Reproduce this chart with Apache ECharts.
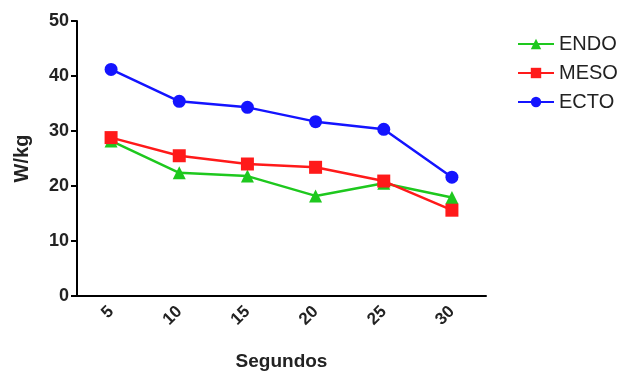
<!DOCTYPE html>
<html>
<head>
<meta charset="utf-8">
<script src="https://cdn.jsdelivr.net/npm/echarts@6/dist/echarts.min.js"></script>
<style>
  html, body { margin: 0; padding: 0; background: #fff; }
  #chart { width: 623px; height: 377px; }
</style>
</head>
<body>
<div id="chart"></div>
<script>
var categories = ['5', '10', '15', '20', '25', '30'];
var endo = [28.2, 22.4, 21.8, 18.2, 20.5, 17.9];
var meso = [28.8, 25.5, 24.0, 23.4, 20.9, 15.6];
var ecto = [41.2, 35.4, 34.3, 31.7, 30.3, 21.6];
var yTicks = [0, 10, 20, 30, 40, 50];

var chart = echarts.init(document.getElementById('chart'));

var fontFamily = 'Liberation Sans, Arial, sans-serif';

function lineSeries(name, data, color, symbol, size) {
	return {
		name: name,
		type: 'line',
		data: data,
		symbol: symbol,
		symbolSize: size,
		itemStyle: { color: color },
		lineStyle: { color: color, width: 2.5 }
	};
}

var options = {
	animation: false,
	textStyle: { fontFamily: fontFamily },
	grid: { left: 77, top: 21, right: 137, bottom: 81, outerBoundsMode: 'none', containLabel: false },
	legend: {
		orient: 'vertical',
		left: 512,
		top: 29,
		itemGap: 9,
		itemWidth: 36,
		itemHeight: 13,
		textStyle: { fontSize: 20, color: '#222', fontFamily: fontFamily },
		data: ['ENDO', 'MESO', 'ECTO']
	},
	xAxis: {
		type: 'category',
		data: categories,
		boundaryGap: true,
		name: 'Segundos',
		nameLocation: 'middle',
		nameGap: 56,
		nameTextStyle: { fontSize: 19, fontWeight: 'bold', color: '#222' },
		axisLine: { lineStyle: { color: '#000', width: 2 } },
		axisTick: { alignWithLabel: true, length: 6, lineStyle: { width: 2, color: '#000' } },
		axisLabel: { rotate: 45, fontSize: 17, fontWeight: 'bold', color: '#222', margin: 13 }
	},
	yAxis: {
		type: 'value',
		min: yTicks[0],
		max: yTicks[yTicks.length - 1],
		interval: 10,
		name: 'W/kg',
		nameLocation: 'middle',
		nameGap: 45,
		nameRotate: 90,
		nameTextStyle: { fontSize: 20, fontWeight: 'bold', color: '#222' },
		splitLine: { show: false },
		axisLine: { show: true, lineStyle: { color: '#000', width: 2 } },
		axisTick: { show: true, length: 6, lineStyle: { width: 2, color: '#000' } },
		axisLabel: { fontSize: 18, fontWeight: 'bold', color: '#222', margin: 8 }
	},
	series: [
		lineSeries('ENDO', endo, '#1ec81e', 'triangle', 13),
		lineSeries('MESO', meso, '#ff1a1a', 'rect', 13),
		lineSeries('ECTO', ecto, '#1414ff', 'circle', 13)
	]
};

chart.setOption(options);
</script>
</body>
</html>
